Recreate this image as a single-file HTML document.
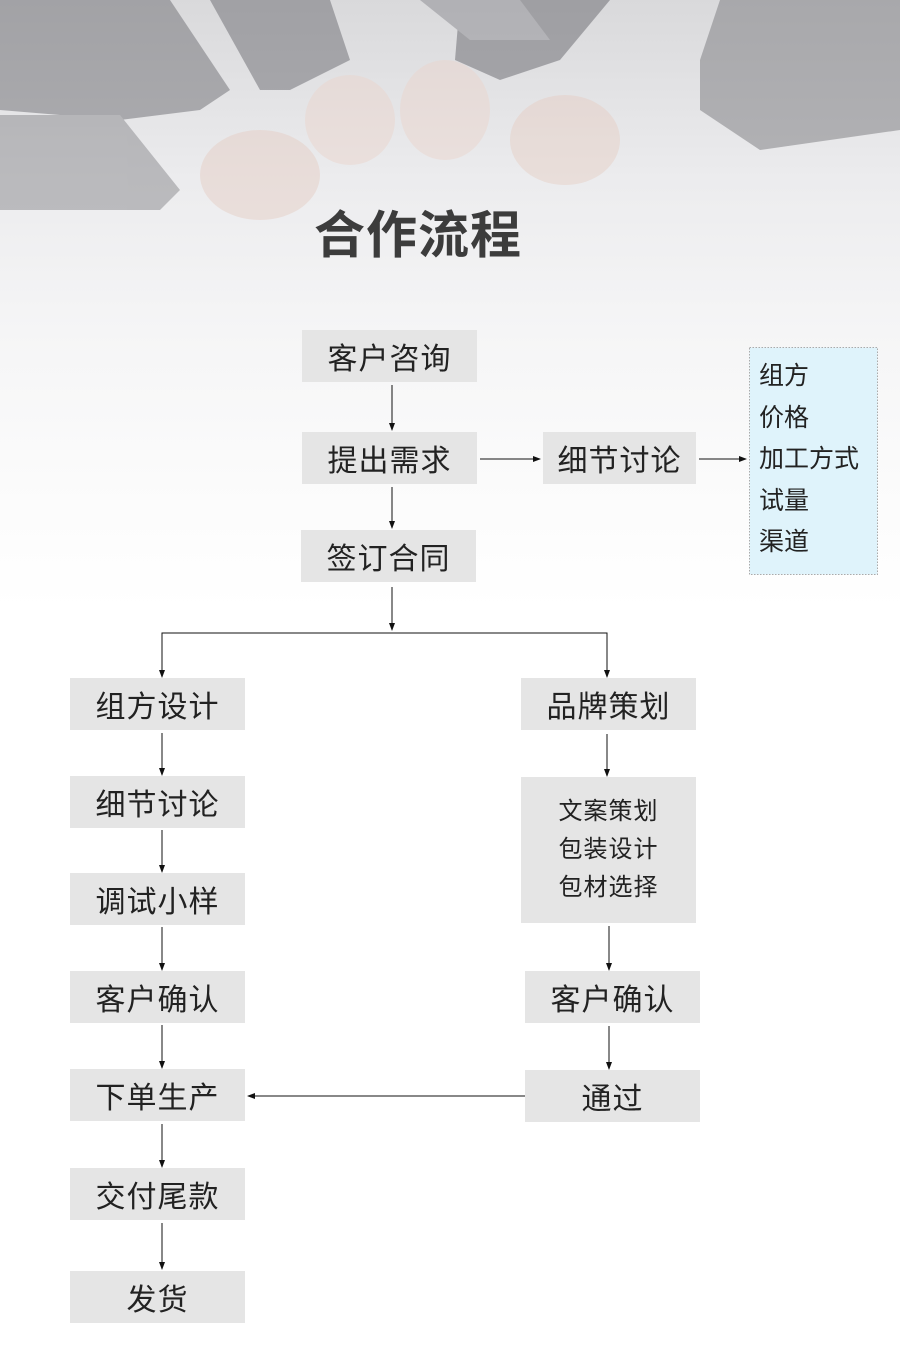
<!DOCTYPE html>
<html><head><meta charset="utf-8"><style>
body{margin:0;width:900px;height:1368px;background:#fff;position:relative;overflow:hidden;font-family:"Liberation Sans","Noto Sans CJK SC",sans-serif}
.bg{position:absolute;left:0;top:0;width:900px;height:620px;background:linear-gradient(#d9d9db 0px,#ececee 180px,#f5f5f6 330px,#fbfbfb 480px,#fff 610px)}
.b{position:absolute;background:#e5e5e5;color:#222;font-size:30px;display:flex;align-items:center;justify-content:center;letter-spacing:1px}
.t{position:absolute;left:314px;top:194px;font-size:51px;font-weight:bold;color:#3c3c3c;letter-spacing:1px}
svg{position:absolute;left:0;top:0}
</style></head><body>
<div class="bg"></div>
<svg width="900" height="300">
<g opacity="0.5">
<path d="M0 0 L170 0 L230 90 L200 110 L120 120 L0 110Z" fill="#6d6d72"/>
<path d="M0 115 L120 115 L180 190 L160 210 L0 210Z" fill="#88888c"/>
<path d="M210 0 L330 0 L350 60 L290 90 L260 90Z" fill="#6a6a70"/>
<path d="M460 0 L610 0 L560 60 L500 80 L455 60Z" fill="#66666c"/>
<path d="M720 0 L900 0 L900 130 L760 150 L700 110 L700 60Z" fill="#77777c"/>
<path d="M420 0 L520 0 L550 40 L470 40Z" fill="#8a8a90"/>
<ellipse cx="260" cy="175" rx="60" ry="45" fill="#e6cfc6"/>
<ellipse cx="350" cy="120" rx="45" ry="45" fill="#ead6ce"/>
<ellipse cx="445" cy="110" rx="45" ry="50" fill="#ead6ce"/>
<ellipse cx="565" cy="140" rx="55" ry="45" fill="#e6cfc6"/>
</g>
</svg>
<div class="t">合作流程</div>
<svg width="900" height="1368">
<defs><marker id="a" markerWidth="8" markerHeight="8" refX="7" refY="4" orient="auto" markerUnits="userSpaceOnUse"><path d="M0 1 L8 4 L0 7Z" fill="#111"/></marker></defs>
<g stroke="#111" stroke-width="1" fill="none">
<line x1="392" y1="385" x2="392" y2="430" marker-end="url(#a)"/>
<line x1="392" y1="487" x2="392" y2="528" marker-end="url(#a)"/>
<line x1="392" y1="587" x2="392" y2="630" marker-end="url(#a)"/>
<line x1="480" y1="459" x2="540" y2="459" marker-end="url(#a)"/>
<line x1="699" y1="459" x2="746" y2="459" marker-end="url(#a)"/>
<polyline points="162,677 162,633 607,633 607,677" marker-end="url(#a)"/>
<line x1="162" y1="640" x2="162" y2="677" marker-end="url(#a)"/>
<line x1="162" y1="733" x2="162" y2="775" marker-end="url(#a)"/>
<line x1="162" y1="830" x2="162" y2="872" marker-end="url(#a)"/>
<line x1="162" y1="927" x2="162" y2="970" marker-end="url(#a)"/>
<line x1="162" y1="1025" x2="162" y2="1068" marker-end="url(#a)"/>
<line x1="162" y1="1124" x2="162" y2="1167" marker-end="url(#a)"/>
<line x1="162" y1="1223" x2="162" y2="1269" marker-end="url(#a)"/>
<line x1="607" y1="734" x2="607" y2="776" marker-end="url(#a)"/>
<line x1="609" y1="926" x2="609" y2="970" marker-end="url(#a)"/>
<line x1="609" y1="1026" x2="609" y2="1069" marker-end="url(#a)"/>
<line x1="525" y1="1096" x2="248" y2="1096" marker-end="url(#a)"/>
</g>
<rect x="749.5" y="347.5" width="128" height="227" fill="#dff3fb" stroke="#aaa" stroke-dasharray="1.5,1.5"/>
</svg>
<div style="position:absolute;left:759px;top:356px;font-size:25px;line-height:41.6px;color:#222">组方<br>价格<br>加工方式<br>试量<br>渠道</div>
<div class="b" style="left:302px;top:330px;width:175px;height:52px">客户咨询</div>
<div class="b" style="left:302px;top:432px;width:175px;height:52px">提出需求</div>
<div class="b" style="left:543px;top:432px;width:153px;height:52px">细节讨论</div>
<div class="b" style="left:301px;top:530px;width:175px;height:52px">签订合同</div>
<div class="b" style="left:70px;top:678px;width:175px;height:52px">组方设计</div>
<div class="b" style="left:70px;top:776px;width:175px;height:52px">细节讨论</div>
<div class="b" style="left:70px;top:873px;width:175px;height:52px">调试小样</div>
<div class="b" style="left:70px;top:971px;width:175px;height:52px">客户确认</div>
<div class="b" style="left:70px;top:1069px;width:175px;height:52px">下单生产</div>
<div class="b" style="left:70px;top:1168px;width:175px;height:52px">交付尾款</div>
<div class="b" style="left:70px;top:1271px;width:175px;height:52px">发货</div>
<div class="b" style="left:521px;top:678px;width:175px;height:52px">品牌策划</div>
<div class="b" style="left:521px;top:777px;width:175px;height:146px;font-size:24px;line-height:38px;text-align:center">文案策划<br>包装设计<br>包材选择</div>
<div class="b" style="left:525px;top:971px;width:175px;height:52px">客户确认</div>
<div class="b" style="left:525px;top:1070px;width:175px;height:52px">通过</div>
</body></html>
